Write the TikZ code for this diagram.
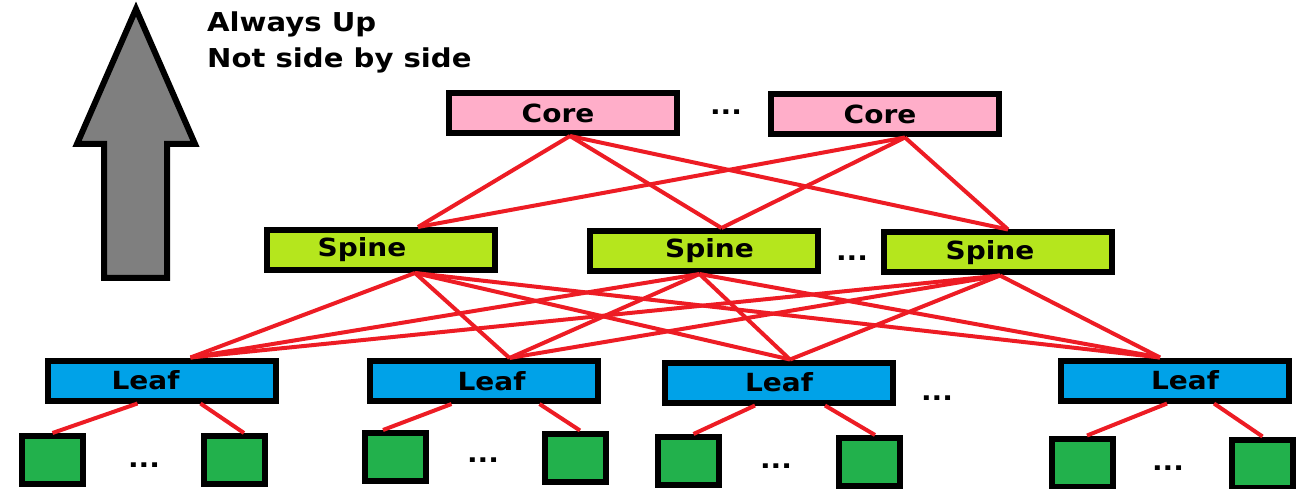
\documentclass[tikz,border=0pt]{standalone}
\usepackage{fontspec}
\setmainfont{DejaVu Sans}
\usepackage{tikz}

\definecolor{corepink}{HTML}{FFAEC9}
\definecolor{spinelime}{HTML}{B5E61D}
\definecolor{leafblue}{HTML}{00A2E8}
\definecolor{hostgreen}{HTML}{22B14C}
\definecolor{linkred}{HTML}{ED1C24}
\definecolor{arrowgray}{HTML}{7F7F7F}

\newcommand{\wtext}[1]{\scalebox{1.12}[1]{\bfseries #1}}
% label moved sideways inside its box by half of #1
\newcommand{\boxtext}[2]{\hspace*{#1pt}\wtext{#2}}

\begin{document}
\begin{tikzpicture}[x=1pt,y=-1pt,
    box/.style={draw=black,line width=6pt,inner sep=0pt,minimum width=228pt,minimum height=40pt,font=\fontsize{25}{30}\selectfont},
    core node/.style={box,fill=corepink},
    spine node/.style={box,fill=spinelime},
    leaf node/.style={box,fill=leafblue},
    host node/.style={box,fill=hostgreen,minimum width=61pt,minimum height=48pt},
    dots/.style={inner sep=0pt,font=\fontsize{25}{30}\selectfont},
    note/.style={anchor=base west,inner sep=0pt,font=\fontsize{26}{31}\selectfont},
    link/.style={draw=linkred,line width=4pt}]
  \useasboundingbox (0,0) rectangle (1307,489);

  % direction arrow
  \draw[fill=arrowgray,line width=6pt,line join=miter]
    (136,9) -- (195,144) -- (167,144) -- (167,278) -- (104,278)
    -- (104,144) -- (77,144) -- cycle;
  \node[note] (note1) at (207,32) {\wtext{Always Up}};
  \node[note] (note2) at (207,68) {\wtext{Not side by side}};

  % switches
  \node[core node] (core1) at (563,113) {\boxtext{-10}{Core}};
  \node[core node] (core2) at (885,114.5) {\boxtext{-10}{Core}};
  \node[dots] (cdots) at (726,112) {\wtext{...}};

  \node[spine node] (spine1) at (381,250) {\boxtext{-38}{Spine}};
  \node[spine node] (spine2) at (703.5,251) {\boxtext{12}{Spine}};
  \node[spine node] (spine3) at (998,252.5) {\boxtext{-16}{Spine}};
  \node[dots] (sdots) at (852,258) {\wtext{...}};

  \node[leaf node] (leaf1) at (161.5,380.5) {\boxtext{-32}{Leaf}};
  \node[leaf node] (leaf2) at (483.5,381) {\boxtext{16}{Leaf}};
  \node[leaf node] (leaf3) at (779,382.5) {\wtext{Leaf}};
  \node[leaf node] (leaf4) at (1175,380.5) {\boxtext{20}{Leaf}};
  \node[dots] (ldots) at (937,398) {\wtext{...}};

  % hosts
  \node[host node] (h11) at (52.5,460) {};
  \node[host node] (h12) at (234,460) {};
  \node[dots] (hdots1) at (144,465) {\wtext{...}};
  \node[host node] (h21) at (395,457) {};
  \node[host node] (h22) at (575,457.5) {};
  \node[dots] (hdots2) at (483,460) {\wtext{...}};
  \node[host node] (h31) at (688.5,461) {};
  \node[host node] (h32) at (869,462) {};
  \node[dots] (hdots3) at (776,466) {\wtext{...}};
  \node[host node] (h41) at (1082,462.5) {};
  \node[host node] (h42) at (1262.5,463.5) {};
  \node[dots] (hdots4) at (1168,468) {\wtext{...}};

  % links
  \foreach \c/\cx in {core1/7,core2/20}
    \foreach \s/\sx in {spine1/37,spine2/18,spine3/10}
      \draw[link] ([xshift=\cx]\c.south) -- ([xshift=\sx]\s.north);
  \foreach \s/\sx in {spine1/34,spine2/-4,spine3/2}
    \foreach \l/\lx in {leaf1/29,leaf2/26,leaf3/11,leaf4/-15}
      \draw[link] ([xshift=\sx]\s.south) -- ([xshift=\lx]\l.north);
  \foreach \l/\ax/\bx/\ha/\hb/\hax/\hbx in {leaf1/-24/39/h11/h12/0/10,leaf2/-32/56/h21/h22/-12/5,leaf3/-24/46/h31/h32/5/6,leaf4/-8/39/h41/h42/5/0} {
    \draw[link] ([xshift=\ax]\l.south) -- ([xshift=\hax]\ha.north);
    \draw[link] ([xshift=\bx]\l.south) -- ([xshift=\hbx]\hb.north);
  }
\end{tikzpicture}
\end{document}
